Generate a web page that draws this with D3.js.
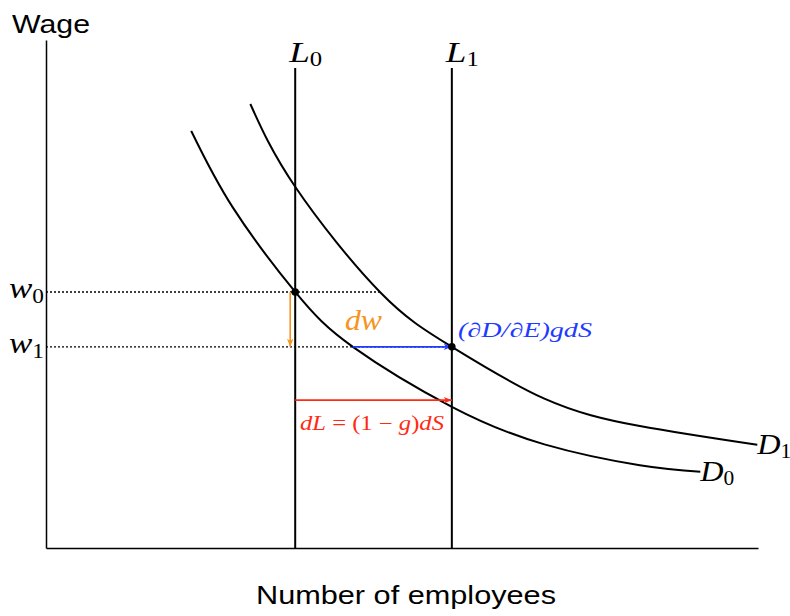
<!DOCTYPE html>
<html>
<head>
<meta charset="utf-8">
<script src="https://cdn.jsdelivr.net/npm/d3@7"></script>
<style>
html,body{margin:0;padding:0;background:#fff;}
svg{display:block;}
.sans{font-family:"Helvetica Neue",Helvetica,"Liberation Sans",Arial,sans-serif;font-weight:normal;}
.math{font-family:"Liberation Serif","DejaVu Serif",serif;}
</style>
</head>
<body>
<svg id="chart" width="790" height="616"></svg>
<script>
// ---- data (x: employees, y: wage, arbitrary units) ----
const axisLabels = {x: "Number of employees", y: "Wage"};
const laborSupplyX = [3.5, 5.7];          // L0, L1
const laborSupplyNames = ["L", "L"];
const laborSupplySubs = ["0", "1"];
const wageLevels = [5.04, 3.96];           // w0, w1
const wageSubs = ["0", "1"];
const demandD0 = [[2.04,8.21],[2.63,6.69],[3.5,5.04],[4.31,3.96],[5.7,2.78],[7.0,2.04],[8.34,1.63],[9.19,1.50]];
const demandD1 = [[2.87,8.74],[3.5,7.11],[4.69,5.04],[5.7,3.96],[7.0,2.94],[8.34,2.40],[9.99,2.03]];
const equilibria = [[3.5,5.04],[5.7,3.96]];
const redArrowY = 2.91;

const svg = d3.select("#chart");
const x = d3.scaleLinear().domain([0,10]).range([46,758]);
const y = d3.scaleLinear().domain([0,10]).range([548,40]);

// axes (no ticks)
svg.append("g").attr("transform",`translate(0,${y(0)})`)
  .call(d3.axisBottom(x).ticks(0).tickSizeOuter(0))
  .call(g=>g.select(".domain").attr("stroke","#000").attr("stroke-width",1.5));
svg.append("g").attr("transform",`translate(${x(0)},0)`)
  .call(d3.axisLeft(y).ticks(0).tickSizeOuter(0))
  .call(g=>g.select(".domain").attr("stroke","#000").attr("stroke-width",1.5));

svg.append("text").attr("class","sans").attr("x",12).attr("y",33)
  .attr("font-size",26).attr("textLength",78).attr("lengthAdjust","spacingAndGlyphs").text(axisLabels.y);
svg.append("text").attr("class","sans").attr("x",256).attr("y",604)
  .attr("font-size",26).attr("textLength",300).attr("lengthAdjust","spacingAndGlyphs").text(axisLabels.x);

// markers
const defs = svg.append("defs");
function marker(id,color){
  defs.append("marker").attr("id",id).attr("viewBox","0 0 10 10")
    .attr("refX",10).attr("refY",5).attr("markerWidth",10).attr("markerHeight",8)
    .attr("markerUnits","userSpaceOnUse").attr("orient","auto")
    .append("path").attr("d","M0,1 L10,5 L0,9 L2.5,5 Z").attr("fill",color);
}
const orange="#f7941d", blue="#1f3bff", red="#ff2a12";
marker("mo",orange); marker("mb",blue); marker("mr",red);

// dotted wage lines
svg.append("line").attr("x1",x(0)).attr("x2",x(4.69)).attr("y1",y(wageLevels[0])).attr("y2",y(wageLevels[0]))
  .attr("stroke","#000").attr("stroke-width",1.4).attr("stroke-dasharray","2,2");
svg.append("line").attr("x1",x(0)).attr("x2",x(5.7)).attr("y1",y(wageLevels[1])).attr("y2",y(wageLevels[1]))
  .attr("stroke","#000").attr("stroke-width",1.4).attr("stroke-dasharray","2,2");

// wage labels
wageLevels.forEach((w,i)=>{
  const t = svg.append("text").attr("class","math").attr("x",9).attr("y",y(w)+6)
    .attr("font-size",30).attr("textLength",35).attr("lengthAdjust","spacingAndGlyphs");
  t.append("tspan").attr("font-style","italic").text("w");
  t.append("tspan").attr("font-size",20).attr("dy",5).text(wageSubs[i]);
});

// vertical labor lines
laborSupplyX.forEach((lx,i)=>{
  svg.append("line").attr("x1",x(lx)).attr("x2",x(lx)).attr("y1",68).attr("y2",y(0))
    .attr("stroke","#000").attr("stroke-width",2);
  const t = svg.append("text").attr("class","math").attr("x",x(lx)-6).attr("y",62).attr("font-size",30)
    .attr("textLength",33).attr("lengthAdjust","spacingAndGlyphs");
  t.append("tspan").attr("font-style","italic").text(laborSupplyNames[i]);
  t.append("tspan").attr("font-size",20).attr("dy",4).text(laborSupplySubs[i]);
});

// demand curves
const line = d3.line().x(d=>x(d[0])).y(d=>y(d[1])).curve(d3.curveNatural);
[demandD0,demandD1].forEach(d=>{
  svg.append("path").attr("d",line(d)).attr("fill","none").attr("stroke","#000").attr("stroke-width",2);
});
// curve labels
[[demandD0,"0"],[demandD1,"1"]].forEach(([d,s])=>{
  const last=d[d.length-1];
  const t = svg.append("text").attr("class","math").attr("x",x(last[0])).attr("y",y(last[1])+9).attr("font-size",30)
    .attr("textLength",34).attr("lengthAdjust","spacingAndGlyphs");
  t.append("tspan").attr("font-style","italic").text("D");
  t.append("tspan").attr("font-size",20).attr("dy",4).text(s);
});

// arrows
svg.append("line").attr("x1",x(3.5)-5).attr("x2",x(3.5)-5).attr("y1",y(wageLevels[0])).attr("y2",y(wageLevels[1]))
  .attr("stroke",orange).attr("stroke-width",1.6).attr("marker-end","url(#mo)");
svg.append("line").attr("x1",x(4.31)).attr("x2",x(5.7)).attr("y1",y(wageLevels[1])).attr("y2",y(wageLevels[1]))
  .attr("stroke",blue).attr("stroke-width",1.6).attr("marker-end","url(#mb)");
svg.append("line").attr("x1",x(3.5)).attr("x2",x(5.7)).attr("y1",y(redArrowY)).attr("y2",y(redArrowY))
  .attr("stroke",red).attr("stroke-width",1.6).attr("marker-end","url(#mr)");

// arrow labels
svg.append("text").attr("class","math").attr("x",345).attr("y",330).attr("font-size",30)
  .attr("font-style","italic").attr("fill",orange).attr("textLength",37).attr("lengthAdjust","spacingAndGlyphs").text("dw");
svg.append("text").attr("class","math").attr("x",458).attr("y",337).attr("font-size",20)
  .attr("font-style","italic").attr("fill",blue).attr("textLength",134).attr("lengthAdjust","spacingAndGlyphs").text("(∂D/∂E)gdS");
const rt = svg.append("text").attr("class","math").attr("x",300).attr("y",430).attr("font-size",20).attr("fill",red)
  .attr("textLength",144).attr("lengthAdjust","spacingAndGlyphs");
rt.append("tspan").attr("font-style","italic").text("dL");
rt.append("tspan").text(" = (1 − ");
rt.append("tspan").attr("font-style","italic").text("g");
rt.append("tspan").text(")");
rt.append("tspan").attr("font-style","italic").text("dS");

// equilibrium points
svg.selectAll("circle.eq").data(equilibria).join("circle").attr("class","eq")
  .attr("cx",d=>x(d[0])).attr("cy",d=>y(d[1])).attr("r",3.8).attr("fill","#000");
</script>
</body>
</html>
